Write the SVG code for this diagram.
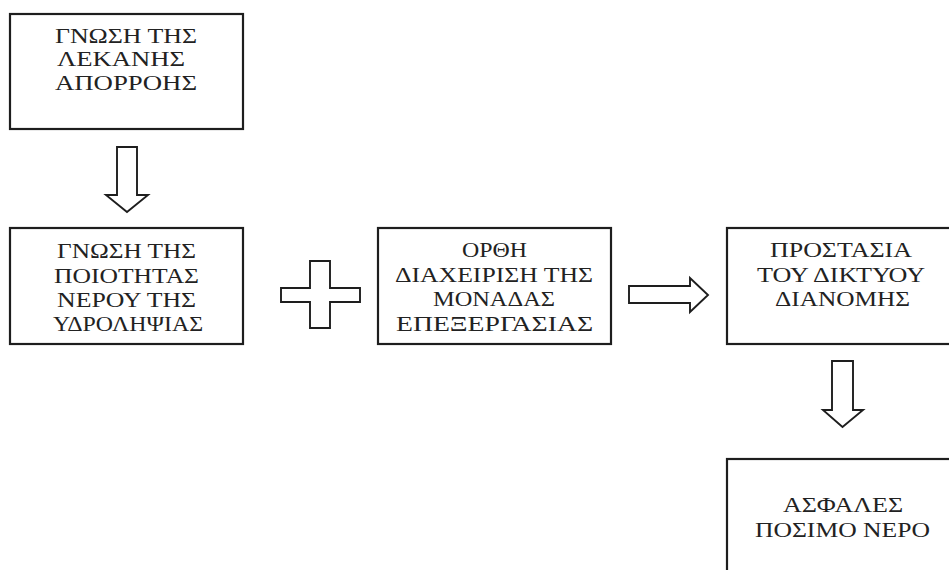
<svg xmlns="http://www.w3.org/2000/svg" width="949" height="570" viewBox="0 0 949 570">
  <style>
    .box { fill: #ffffff; stroke: #1e1e1e; stroke-width: 2.2; }
    .arrow { fill: #ffffff; stroke: #1e1e1e; stroke-width: 1.9; stroke-linejoin: miter; }
    .lbl { font-family: "Liberation Serif", "Times New Roman", serif; font-size: 22px; fill: #222222; text-anchor: middle; }
  </style>
  <rect width="949" height="570" fill="#ffffff"/>

  <!-- labels are drawn in a horizontally widened frame: x values are divided by 1.14 -->
  <g id="node-basin">
    <rect class="box" x="10" y="14" width="233" height="115"/>
    <g transform="scale(1.14,1)">
      <text class="lbl" x="110.5" y="43" textLength="124.6" lengthAdjust="spacingAndGlyphs">ΓΝΩΣΗ ΤΗΣ</text>
      <text class="lbl" x="106.1" y="66" textLength="112.3" lengthAdjust="spacingAndGlyphs">ΛΕΚΑΝΗΣ</text>
      <text class="lbl" x="110.5" y="90" textLength="124.6" lengthAdjust="spacingAndGlyphs">ΑΠΟΡΡΟΗΣ</text>
    </g>
  </g>

  <g id="node-quality">
    <rect class="box" x="10" y="228" width="233" height="116"/>
    <g transform="scale(1.14,1)">
      <text class="lbl" x="111" y="258" textLength="121.9" lengthAdjust="spacingAndGlyphs">ΓΝΩΣΗ ΤΗΣ</text>
      <text class="lbl" x="111" y="283" textLength="127.2" lengthAdjust="spacingAndGlyphs">ΠΟΙΟΤΗΤΑΣ</text>
      <text class="lbl" x="111" y="307" textLength="121.9" lengthAdjust="spacingAndGlyphs">ΝΕΡΟΥ ΤΗΣ</text>
      <text class="lbl" x="112.3" y="331" textLength="131.6" lengthAdjust="spacingAndGlyphs">ΥΔΡΟΛΗΨΙΑΣ</text>
    </g>
  </g>

  <g id="node-treatment">
    <rect class="box" x="378" y="228" width="233" height="116"/>
    <g transform="scale(1.14,1)">
      <text class="lbl" x="433.8" y="257" textLength="57" lengthAdjust="spacingAndGlyphs">ΟΡΘΗ</text>
      <text class="lbl" x="433.3" y="282" textLength="173.7" lengthAdjust="spacingAndGlyphs">ΔΙΑΧΕΙΡΙΣΗ ΤΗΣ</text>
      <text class="lbl" x="433.3" y="306" textLength="107" lengthAdjust="spacingAndGlyphs">ΜΟΝΑΔΑΣ</text>
      <text class="lbl" x="433.8" y="331" textLength="172.8" lengthAdjust="spacingAndGlyphs">ΕΠΕΞΕΡΓΑΣΙΑΣ</text>
    </g>
  </g>

  <g id="node-network">
    <rect class="box" x="727" y="228" width="240" height="116"/>
    <g transform="scale(1.14,1)">
      <text class="lbl" x="737.7" y="257" textLength="124.6" lengthAdjust="spacingAndGlyphs">ΠΡΟΣΤΑΣΙΑ</text>
      <text class="lbl" x="737.7" y="282" textLength="147.4" lengthAdjust="spacingAndGlyphs">ΤΟΥ ΔΙΚΤΥΟΥ</text>
      <text class="lbl" x="739" y="306" textLength="118.4" lengthAdjust="spacingAndGlyphs">ΔΙΑΝΟΜΗΣ</text>
    </g>
  </g>

  <g id="node-safe-water">
    <rect class="box" x="727" y="459" width="240" height="130"/>
    <g transform="scale(1.14,1)">
      <text class="lbl" x="739.5" y="512" textLength="105.3" lengthAdjust="spacingAndGlyphs">ΑΣΦΑΛΕΣ</text>
      <text class="lbl" x="739" y="537" textLength="153.5" lengthAdjust="spacingAndGlyphs">ΠΟΣΙΜΟ ΝΕΡΟ</text>
    </g>
  </g>

  <g id="connectors">
    <!-- block arrow: basin -> quality -->
    <path class="arrow" d="M117,147 H137 V195 H148 L127,212 L106,195 H117 Z"/>
    <!-- plus sign between quality and treatment -->
    <path class="arrow" d="M310,261 H330 V288 H360 V302 H330 V328 H310 V302 H281 V288 H310 Z"/>
    <!-- block arrow: treatment -> network -->
    <path class="arrow" d="M629,286 H690 V278 L708,295 L690,312 V303 H629 Z"/>
    <!-- block arrow: network -> safe water -->
    <path class="arrow" d="M832,361 H853 V410 H863 L842.5,427 L823,410 H832 Z"/>
  </g>
</svg>
